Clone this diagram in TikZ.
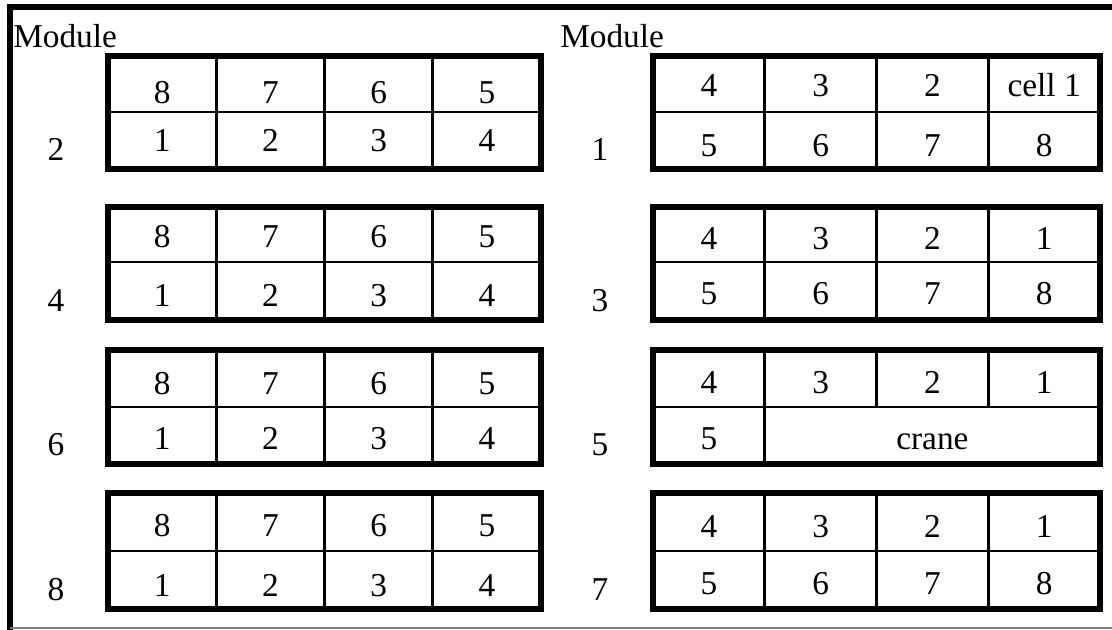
\documentclass[tikz,border=0pt]{standalone}
\usepackage{fontspec}
\setmainfont{Liberation Serif}
\begin{document}
\begin{tikzpicture}[x=0.75pt,y=-0.75pt,
  thickbox/.style={line width=4.5pt},
  thinline/.style={line width=1.9pt},
  frameline/.style={line width=4.3pt},
  txt/.style={font=\fontsize{25}{29}\selectfont, inner sep=0pt, text height=16.5pt, text depth=0pt},
  ]
\useasboundingbox (0,0) rectangle (1112,629);
% outer frame
\draw[frameline] (9.7,640) -- (9.7,7) -- (1120,7);
\draw[gray, line width=1pt] (9.7,628) -- (1112,628);
% headings
\node[txt, anchor=base west] (modL) at (13,47) {Module};
\node[txt, anchor=base west] (modR) at (560,47) {Module};
% rows: index / top / mid / bottom / left label / right label / text y (left top, left bottom, right top, right bottom)
\foreach \r/\T/\M/\B/\ll/\rl/\ya/\yb/\za/\zb in {
  1/56/112/169/2/1/92.5/140.8/85.8/145,
  2/207/262/320/4/3/236.7/295/238/293,
  3/350/407/464/6/5/383.3/438.3/382/438,
  4/493/551/609/8/7/525.8/585/526/583}{
  % left box
  \draw[thinline] (108,\M) -- (541,\M);
  \foreach \x in {216.25,324.5,432.75} \draw[thinline] (\x,\T) -- (\x,\B);
  \draw[thickbox] (108,\T) rectangle (541,\B);
  \foreach \t/\x/\c in {8/162.1/a,7/270.4/b,6/378.6/c,5/486.9/d}
    \node[txt] (L\r\c1) at (\x,\ya) {\t};
  \foreach \t/\x/\c in {1/162.1/a,2/270.4/b,3/378.6/c,4/486.9/d}
    \node[txt] (L\r\c2) at (\x,\yb) {\t};
  \node[txt] (labL\r) at (56,\B-20) {\ll};
  % right box
  \draw[thinline] (653,\M) -- (1100,\M);
  \draw[thinline] (764.75,\T) -- (764.75,\B);
  \ifnum\r=3
    \foreach \x in {876.5,988.25} \draw[thinline] (\x,\T) -- (\x,\M);
  \else
    \foreach \x in {876.5,988.25} \draw[thinline] (\x,\T) -- (\x,\B);
  \fi
  \draw[thickbox] (653,\T) rectangle (1100,\B);
  \ifnum\r=1
    \foreach \t/\x/\c in {4/708.9/a,3/820.6/b,2/932.4/c,cell 1/1044.1/d}
      \node[txt] (R\r\c1) at (\x,\za) {\t};
  \else
    \foreach \t/\x/\c in {4/708.9/a,3/820.6/b,2/932.4/c,1/1044.1/d}
      \node[txt] (R\r\c1) at (\x,\za) {\t};
  \fi
  \ifnum\r=3
    \node[txt] (R3a2) at (708.9,\zb) {5};
    \node[txt] (crane) at (932.4,\zb) {crane};
  \else
    \foreach \t/\x/\c in {5/708.9/a,6/820.6/b,7/932.4/c,8/1044.1/d}
      \node[txt] (R\r\c2) at (\x,\zb) {\t};
  \fi
  \node[txt] (labR\r) at (600,\B-20) {\rl};
}
\end{tikzpicture}
\end{document}
